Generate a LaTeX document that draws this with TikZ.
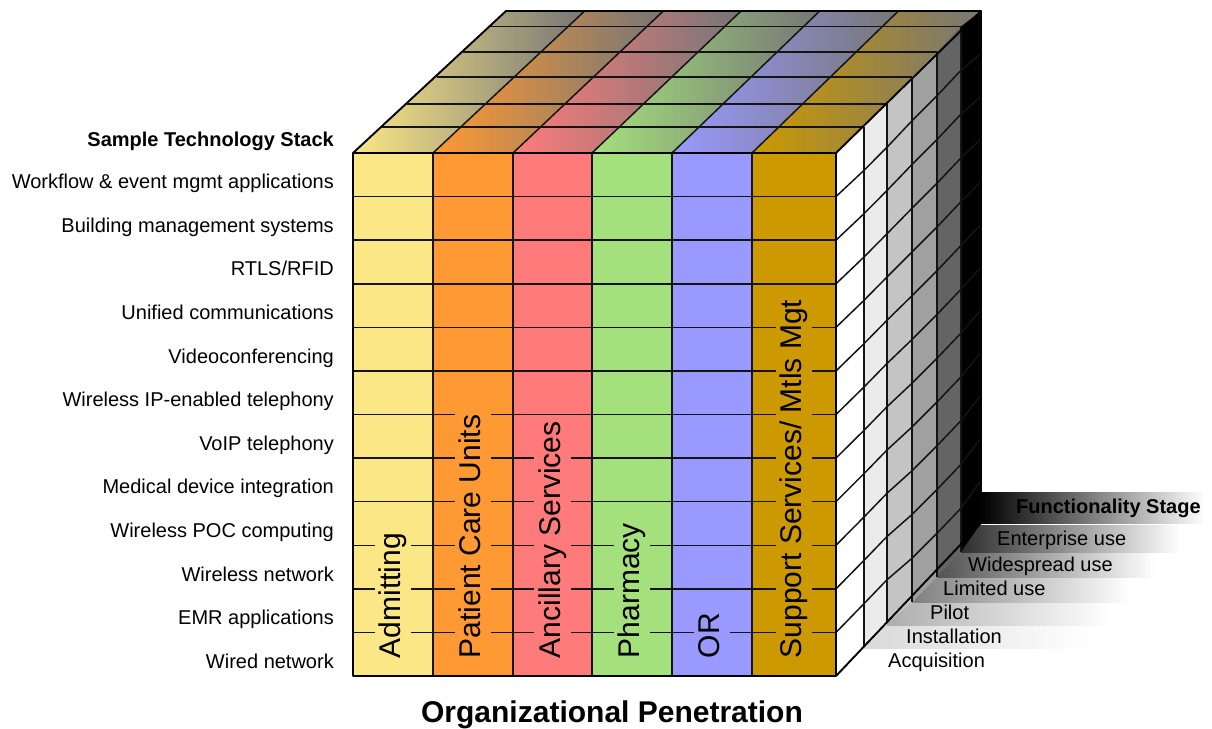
\documentclass[tikz,border=0pt]{standalone}
\usepackage{fontspec}
\setmainfont{Liberation Sans}
\definecolor{cAdm}{HTML}{FBE785}
\definecolor{cPCU}{HTML}{FF9933}
\definecolor{cAnc}{HTML}{FF7B7B}
\definecolor{cPha}{HTML}{A4E07C}
\definecolor{cOR}{HTML}{9999FF}
\definecolor{cSup}{HTML}{CC9900}
\definecolor{topgray}{HTML}{767676}
\definecolor{side1}{HTML}{EBEBEB}
\definecolor{side2}{HTML}{C4C4C4}
\definecolor{side3}{HTML}{A0A0A0}
\definecolor{side4}{HTML}{646464}
\begin{document}
\begin{tikzpicture}[x=1pt,y=-1pt,
  gridline/.style={draw=black!92, line width=1.5pt},
  outline/.style={draw=black, line width=1.9pt, line join=round},
  rowlabel/.style={anchor=base east, inner sep=0pt, font=\fontsize{20}{24}\selectfont},
  stagelabel/.style={anchor=base west, inner sep=0pt, font=\fontsize{20}{24}\selectfont},
  collabel/.style={rotate=90, anchor=west, inner xsep=3.5pt, inner ysep=3.5pt,
    text height=22.5pt, text depth=6.6pt, font=\fontsize{30}{36}\selectfont}]
\useasboundingbox (0,0) rectangle (1212,728);

% ---- geometry of the cube ----
\def\colX{{353,433,513,592,672,752,836}}   % column edges of the front face
\def\layL{{353,382,407,437,463,490,506}}   % left end of each depth layer (top face)
\def\layR{{836,864,887,912,937,961,981}}   % right end of each depth layer
\def\layT{{153,127,104,77,52,26.5,11}}     % top y of each depth layer
\def\layB{{676,647,623,602,577,552,523}}   % bottom y of each depth layer (side face)

\foreach \k in {0,...,6}{
  \pgfmathsetmacro\xl{\layL[\k]}
  \pgfmathsetmacro\xr{\layR[\k]}
  \pgfmathsetmacro\yt{\layT[\k]}
  \pgfmathsetmacro\yb{\layB[\k]}
  \foreach \j in {0,...,6}{
    \pgfmathsetmacro\xj{\colX[\j]}
    \pgfmathsetmacro\xx{\xl+(\xj-353)/483*(\xr-\xl)}
    \coordinate (T-\j-\k) at (\xx,\yt);
  }
  \foreach \i in {0,...,12}{
    \pgfmathsetmacro\yy{\yt+\i/12*(\yb-\yt)}
    \coordinate (R-\k-\i) at (\xr,\yy);
  }
}
\foreach \j in {0,...,6}{
  \pgfmathsetmacro\xj{\colX[\j]}
  \foreach \i in {0,...,12}{
    \pgfmathsetmacro\yy{153+\i*523/12}
    \coordinate (F-\j-\i) at (\xj,\yy);
  }
}

% ---- stepped floor of the functionality stages ----
\shade[left color=black!15, right color=white] (864,625) rectangle (1090,648);
\shade[left color=black!32, right color=white] (887,602) rectangle (1110,625);
\shade[left color=black!50, right color=white] (912,577) rectangle (1130,602);
\shade[left color=black!68, right color=white] (937,552) rectangle (1155,577);
\shade[left color=black!82, right color=white] (961,525) rectangle (1180,552);
\shade[left color=black, right color=white] (981,492) rectangle (1205,523);

% ---- top face ----
\foreach \j/\c in {0/cAdm,1/cPCU,2/cAnc,3/cPha,4/cOR,5/cSup}{
  \pgfmathtruncatemacro\jn{\j+1}
  \shade[left color=\c, right color=topgray]
    (T-\j-0) -- (T-\jn-0) -- (T-\jn-6) -- (T-\j-6) -- cycle;
}
\foreach \k in {1,...,5}{ \draw[gridline] (T-0-\k) -- (T-6-\k); }
\foreach \j in {1,...,5}{ \draw[gridline] (T-\j-0) -- (T-\j-6); }

% ---- side face ----
\foreach \k/\c in {0/white,1/side1,2/side2,3/side3,4/side4,5/black}{
  \pgfmathtruncatemacro\kn{\k+1}
  \fill[\c] (R-\k-0) -- (R-\kn-0) -- (R-\kn-12) -- (R-\k-12) -- cycle;
}
\foreach \i in {1,...,11}{
  \draw[gridline] (R-0-\i) -- (R-1-\i) -- (R-2-\i) -- (R-3-\i) -- (R-4-\i) -- (R-5-\i) -- (R-6-\i);
}
\foreach \k in {1,...,5}{ \draw[gridline] (R-\k-0) -- (R-\k-12); }

% ---- front face ----
\foreach \j/\c in {0/cAdm,1/cPCU,2/cAnc,3/cPha,4/cOR,5/cSup}{
  \pgfmathtruncatemacro\jn{\j+1}
  \fill[\c] (F-\j-0) rectangle (F-\jn-12);
}
\foreach \i in {1,...,11}{ \draw[gridline] (F-0-\i) -- (F-6-\i); }
\foreach \j in {1,...,5}{ \draw[gridline] (F-\j-0) -- (F-\j-12); }

% ---- column captions ----
\node[collabel, fill=cAdm] (adm) at (393,662) {Admitting};
\node[collabel, fill=cPCU] (pcu) at (473,662) {Patient Care Units};
\node[collabel, fill=cAnc] (anc) at (552.5,662) {Ancillary Services};
\node[collabel, fill=cPha] (pha) at (632,662) {Pharmacy};
\node[collabel, fill=cOR]  (opr) at (712,662) {OR};
\node[collabel, fill=cSup] (sup) at (794,662) {Support Services/ Mtls Mgt};

% ---- outlines ----
\draw[outline] (F-0-0) rectangle (F-6-12);
\draw[outline] (T-0-0) -- (T-0-6) -- (T-6-6) -- (T-6-0);
\draw[outline] (R-6-0) -- (R-6-12) -- (R-0-12);

% ---- technology stack ----
\node[rowlabel, font=\fontsize{20}{24}\selectfont\bfseries] (stack) at (334,146.5) {Sample Technology Stack};
\foreach \i/\t in {0/{Workflow \& event mgmt applications},
                   1/{Building management systems},
                   2/{RTLS/RFID},
                   3/{Unified communications},
                   4/{Videoconferencing},
                   5/{Wireless IP-enabled telephony},
                   6/{VoIP telephony},
                   7/{Medical device integration},
                   8/{Wireless POC computing},
                   9/{Wireless network},
                   10/{EMR applications},
                   11/{Wired network}}{
  \pgfmathsetmacro\yy{188.8+\i*43.58}
  \node[rowlabel] (row\i) at (334,\yy) {\t};
}

% ---- functionality stages ----
\node[stagelabel, font=\fontsize{20}{24}\selectfont\bfseries] (stage) at (1016,513) {Functionality Stage};
\node[stagelabel] (st6) at (997,545) {Enterprise use};
\node[stagelabel] (st5) at (968,571.5) {Widespread use};
\node[stagelabel] (st4) at (943,595) {Limited use};
\node[stagelabel] (st3) at (930,619.3) {Pilot};
\node[stagelabel] (st2) at (906,643.3) {Installation};
\node[stagelabel] (st1) at (888,667.3) {Acquisition};

% ---- axis caption ----
\node[anchor=base, inner sep=0pt, font=\fontsize{30}{36}\selectfont\bfseries] (pen) at (612,722) {Organizational Penetration};
\end{tikzpicture}
\end{document}
